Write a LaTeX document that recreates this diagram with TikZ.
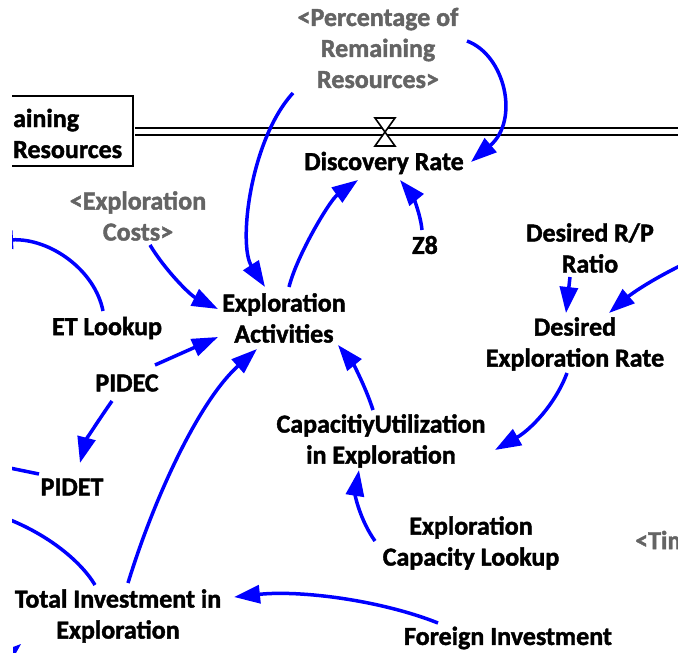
\documentclass[tikz,border=0pt]{standalone}
\usepackage{fontspec}
\setmainfont{Carlito}[BoldFeatures={FakeBold=1.6}]
\usetikzlibrary{arrows.meta,calc}
\definecolor{lnk}{RGB}{0,0,255}
\definecolor{shad}{RGB}{100,100,100}
\tikzset{
  var/.style={font=\bfseries\fontsize{26}{31}\selectfont, align=center, inner sep=0pt, text=black},
  shadowvar/.style={var, text=shad},
  link/.style={draw=lnk, line width=3.5pt, -{Triangle[length=26pt,width=18pt]}},
  stub/.style={draw=lnk, line width=3.5pt},
  pipe/.style={draw=black, line width=2.2pt, double=white, double distance=4.3pt},
  valvestyle/.style={draw=black, fill=white, line width=1.6pt, line join=miter},
}
\begin{document}
\begin{tikzpicture}[x=1pt,y=-1pt]
\useasboundingbox (0,0) rectangle (678,653);
\clip (12,0) rectangle (678,653);

% stock and flow
\node[draw=black, line width=2.5pt, minimum width=163pt, minimum height=70pt, inner sep=0pt] (stock) at (51.5,131) {};
\node[var, align=left, anchor=west] (stocktxt) at (13,133.5) {aining\\Resources};
\coordinate (pipeend) at (700,131.5);
\draw[pipe] ($(stock.east)+(1,0.5)$) -- (pipeend);
\coordinate (valve) at (385,132);
\draw[valvestyle] ($(valve)+(-10,-14)$) -- ($(valve)+(10,-14)$) -- ($(valve)+(-10,14)$) -- ($(valve)+(10,14)$) -- cycle;

% variables
\node[shadowvar] (pct) at (378,48) {<Percentage of\\Remaining\\Resources>};
\node[var] (disc) at (384,163) {Discovery Rate};
\node[shadowvar] (ecost) at (138,216) {<Exploration\\Costs>};
\node[var] (z8) at (425,245) {Z8};
\node[var] (rp) at (590,248) {Desired R/P\\Ratio};
\node[var] (der) at (575,344) {Desired\\Exploration Rate};
\node[var] (ea) at (284,318) {Exploration\\Activities};
\node[var] (etl) at (107,328) {ET Lookup};
\node[var] (pidec) at (127,383) {PIDEC};
\node[var] (pidet) at (72,487) {PIDET};
\node[var] (cue) at (381,441) {CapacitiyUtilization\\in Exploration};
\node[var] (ecl) at (471,543) {Exploration\\Capacity Lookup};
\node[shadowvar, anchor=west] (tim) at (635,540) {<Tim};
\node[var] (tie) at (118,616) {Total Investment in\\Exploration};
\node[var] (fi) at (508,638) {Foreign Investment};

% off-picture ends
\coordinate (Lt1) at (-13,241);
\coordinate (Lt2) at (0,466);
\coordinate (Lt3) at (0,516);
\coordinate (Rt) at (690,261);

% connectors
\draw[link] ($(pct)+(-85,45)$) .. controls (250,140) and (238,245) .. ($(ea)+(-19,-31)$);
\draw[link] ($(pct)+(89,-7)$) .. controls (505,55) and (520,120) .. ($(disc)+(87,-1)$);
\draw[link] ($(ea)+(5,-31)$) .. controls (297,255) and (330,200) .. ($(disc)+(-26,17)$);
\draw[link] ($(z8)+(-3,-15)$) .. controls (420,210) and (410,192) .. ($(disc)+(16,17)$);
\draw[link] ($(ecost)+(12,29)$) .. controls (165,270) and (190,295) .. ($(ea)+(-66,-9)$);
\draw[link] ($(etl)+(-4,-17)$) .. controls (95,270) and (50,238) .. (Lt1);
\draw[link] ($(pidec)+(28,-18)$) -- ($(ea)+(-66,19)$);
\draw[link] ($(pidec)+(-15,18)$) .. controls (100,418) and (86,440) .. ($(pidet)+(8,-24)$);
\draw[stub] ($(pidet)+(-33,-13)$) -- (Lt2);
\draw[link] ($(tie)+(10,-33)$) .. controls (155,495) and (200,400) .. ($(ea)+(-27,31)$);
\draw[stub] ($(tie)+(-23,-31)$) .. controls (80,560) and (45,532) .. (Lt3);
\fill[lnk] (21,644) -- (13,647) -- (13,653) -- (16,653) -- cycle;
\draw[link] ($(fi)+(-70,-15)$) .. controls (380,600) and (300,590) .. ($(tie)+(116,-19)$);
\draw[link] ($(cue)+(-8,-31)$) .. controls (365,385) and (352,362) .. ($(ea)+(54,27)$);
\draw[link] ($(der)+(-8,29)$) .. controls (555,405) and (530,430) .. ($(cue)+(114,9)$);
\draw[link] ($(rp)+(-20,29)$) -- ($(der)+(-9,-31)$);
\draw[link] (Rt) .. controls (650,280) and (630,295) .. ($(der)+(34,-31)$);
\draw[link] ($(ecl)+(-96,-2)$) .. controls (360,520) and (355,495) .. ($(cue)+(-22,29)$);
\end{tikzpicture}
\end{document}
